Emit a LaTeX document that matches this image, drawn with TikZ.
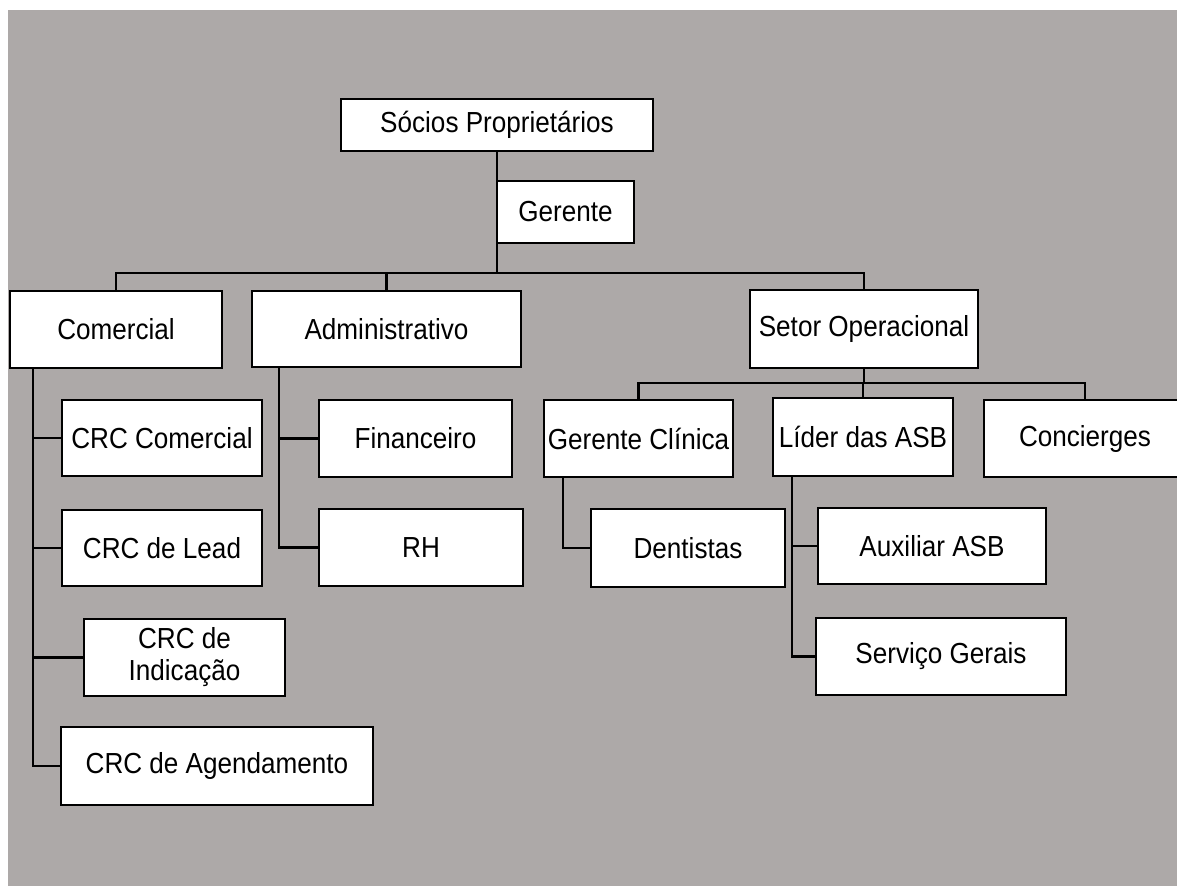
\documentclass[tikz,border=0pt]{standalone}
\usepackage{fontspec}
\setmainfont{Liberation Sans}[FakeStretch=0.9]
\usepackage{tikz}
\usetikzlibrary{calc}
\definecolor{bggray}{RGB}{173,169,168}

\begin{document}
\begin{tikzpicture}
  [x=1pt,y=-1pt,
   orgbox/.style={draw=black,fill=white,line width=2.3pt,inner sep=0pt,
     align=center,font=\fontsize{29}{32}\selectfont},
   link/.style={draw=black,line width=2.3pt}]
  \useasboundingbox (0,0) rectangle (1177,886);
  \fill[bggray] (8,10) rectangle (1177,886);
  % helper points
  \coordinate (topbar) at (0,273);
  \coordinate (opbar) at (0,383);
  \coordinate (comline) at (33,0);
  \coordinate (admline) at (279,0);
  \coordinate (gclline) at (563,0);
  \coordinate (lidline) at (792,0);
  % top
  \node[orgbox,minimum width=312pt,minimum height=52pt] (soc) at (497,125) {Sócios Proprietários};
  % first level
  \node[orgbox,minimum width=212pt,minimum height=77pt] (com) at (116,329.5) {Comercial};
  \node[orgbox,minimum width=269pt,minimum height=76pt] (adm) at (386.5,329) {Administrativo};
  \node[orgbox,minimum width=228pt,minimum height=78pt] (set) at (864,329) {Setor Operacional};
  \foreach \n in {com,adm,set} {
      \draw[link] (soc.south) |- (\n.north |- topbar) -- (\n.north);
  }
  \node[orgbox,minimum width=137pt,minimum height=62pt] (ger) at (565.5,212) {Gerente};
  % comercial
  \node[orgbox,minimum width=200pt,minimum height=76pt] (crccom) at (162,438) {CRC Comercial};
  \node[orgbox,minimum width=200pt,minimum height=76pt] (crclead) at (162,548) {CRC de Lead};
  \node[orgbox,minimum width=201pt,minimum height=77pt] (crcind) at (184.5,657.5) {CRC de\\Indicação};
  \node[orgbox,minimum width=312pt,minimum height=78pt] (crcage) at (217,766) {CRC de Agendamento};
  \foreach \n in {crccom,crclead,crcind,crcage} {
      \draw[link] (com.south -| comline) |- (\n.west);
  }
  % administrativo
  \node[orgbox,minimum width=193pt,minimum height=77pt] (fin) at (415.5,438.5) {Financeiro};
  \node[orgbox,minimum width=204pt,minimum height=77pt] (rh) at (421,547.5) {RH};
  \foreach \n in {fin,rh} {
      \draw[link] (adm.south -| admline) |- (\n.west);
  }
  % setor operacional
  \node[orgbox,minimum width=189pt,minimum height=77pt] (gcl) at (638.5,438.5) {Gerente Clínica};
  \node[orgbox,minimum width=180pt,minimum height=78pt] (lid) at (863,437) {Líder das ASB};
  \node[orgbox,minimum width=202pt,minimum height=77pt] (con) at (1085,438.5) {Concierges};
  \foreach \n in {gcl,lid,con} {
      \draw[link] (set.south) |- (\n.north |- opbar) -- (\n.north);
  }
  \node[orgbox,minimum width=194pt,minimum height=78pt] (den) at (688,548) {Dentistas};
  \draw[link] (gcl.south -| gclline) |- (den.west);
  \node[orgbox,minimum width=228pt,minimum height=76pt] (aux) at (932,546) {Auxiliar ASB};
  \node[orgbox,minimum width=250pt,minimum height=77pt] (ser) at (941,656.5) {Serviço Gerais};
  \foreach \n in {aux,ser} {
      \draw[link] (lid.south -| lidline) |- (\n.west);
  }
\end{tikzpicture}
\end{document}
